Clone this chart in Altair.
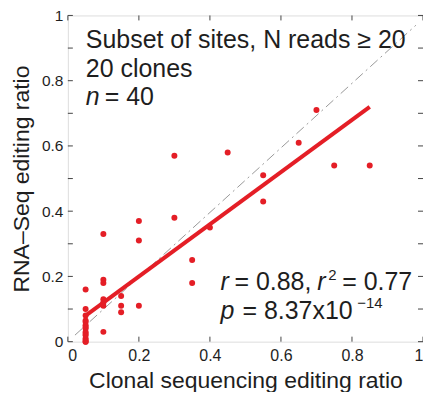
import altair as alt
import pandas as pd

# ---- data ----
clone_x = ([0.05] * 15 + [0.10] * 7 + [0.15] * 3 + [0.20] * 3 + [0.30] * 2 +
           [0.35] * 2 + [0.40] + [0.45] + [0.55] * 2 + [0.65] + [0.70] + [0.75] + [0.85])
rnaseq_y = ([0.16, 0.10, 0.08, 0.065, 0.06, 0.05, 0.045, 0.04, 0.03, 0.025, 0.02, 0.01, 0.005, 0.0, 0.0] +
            [0.33, 0.19, 0.18, 0.13, 0.12, 0.11, 0.03] +
            [0.14, 0.11, 0.09] +
            [0.37, 0.31, 0.11] +
            [0.57, 0.38] +
            [0.25, 0.18] +
            [0.35] + [0.58] + [0.51, 0.43] + [0.61] + [0.71] + [0.54] + [0.54])

fit_x = [0.05, 0.85]
fit_y = [0.08, 0.72]
diag_x = [0.02, 0.98]
diag_y = [0.02, 0.97]
x_ticks = [0.0, 0.2, 0.4, 0.6, 0.8, 1.0]
y_ticks = [0.0, 0.1, 0.2, 0.3, 0.4, 0.5, 0.6, 0.7, 0.8, 0.9, 1.0]
label_vals = [0, 0.2, 0.4, 0.6, 0.8, 1]

# annotation segments: text, anchor (data units), style, size, raise (px)
ann_txt = ["Subset of sites, N reads \u2265 20", "20 clones", "n", "= 40",
           "r", "= 0.88,", "r", "2", "= 0.77",
           "p", "= 8.37x10", "\u221214"]
ann_x = [0.0506, 0.0506, 0.0506, 0.1039,
         0.4298, 0.4691, 0.7022, 0.7331, 0.7725,
         0.4298, 0.4916, 0.8146]
ann_y = [0.900, 0.812, 0.724, 0.724,
         0.158, 0.158, 0.158, 0.158, 0.158,
         0.0697, 0.0697, 0.0697]
ann_style = ["normal", "normal", "italic", "normal",
             "italic", "normal", "italic", "normal", "normal",
             "italic", "normal", "normal"]
ann_size = [25, 25, 25, 25,
            25, 25, 25, 15, 25,
            25, 25, 15]
ann_dy = [0, 0, 0, 0,
          0, 0, 0, -10, 0,
          0, 0, -11]

W, H = 356, 327
RED = "#e41e26"
FONT = "Liberation Sans"
TXT = "#1e1e1e"

pts = pd.DataFrame({"x": clone_x, "y": rnaseq_y})
fit = pd.DataFrame({"x": fit_x, "y": fit_y})
diag = pd.DataFrame({"x": diag_x, "y": diag_y})
xt = pd.DataFrame({"t": x_ticks})
yt = pd.DataFrame({"t": y_ticks})

xs = alt.Scale(domain=[0, 1], nice=False, zero=False)
ys = alt.Scale(domain=[0, 1], nice=False, zero=False)

xaxis = alt.Axis(values=label_vals, format="~g", ticks=False, domain=False, grid=False,
                 labelFontSize=16, labelColor=TXT, labelPadding=6, labelFont=FONT,
                 title="Clonal sequencing editing ratio", titleFontSize=23, titleFont=FONT,
                 titleFontWeight="normal", titleColor=TXT, titlePadding=6)
yaxis = alt.Axis(values=label_vals, format="~g", ticks=False, domain=False, grid=False,
                 labelFontSize=15.5, labelColor=TXT, labelPadding=5, labelFont=FONT,
                 title="RNA\u2013Seq editing ratio", titleFontSize=23, titleFont=FONT,
                 titleFontWeight="normal", titleColor=TXT, titlePadding=8)

points = alt.Chart(pts).mark_circle(size=36, color=RED, opacity=1).encode(
    x=alt.X("x:Q", scale=xs, axis=xaxis),
    y=alt.Y("y:Q", scale=ys, axis=yaxis),
)

diag_line = alt.Chart(diag).mark_line(color="#999999", strokeWidth=1,
                                      strokeDash=[10, 4, 2, 4]).encode(
    x=alt.X("x:Q", scale=xs), y=alt.Y("y:Q", scale=ys))

fit_line = alt.Chart(fit).mark_line(color=RED, strokeWidth=4).encode(
    x=alt.X("x:Q", scale=xs), y=alt.Y("y:Q", scale=ys))

tstyle = dict(color="#444", strokeWidth=1)
TL = 5
bottom = alt.Chart(xt).mark_rule(**tstyle).encode(
    x=alt.X("t:Q", scale=xs), y=alt.value(H), y2=alt.value(H - TL))
top = alt.Chart(xt).mark_rule(**tstyle).encode(
    x=alt.X("t:Q", scale=xs), y=alt.value(0), y2=alt.value(TL))
left = alt.Chart(yt).mark_rule(**tstyle).encode(
    y=alt.Y("t:Q", scale=ys), x=alt.value(0), x2=alt.value(TL))
right = alt.Chart(yt).mark_rule(**tstyle).encode(
    y=alt.Y("t:Q", scale=ys), x=alt.value(W), x2=alt.value(W - TL))

ann = pd.DataFrame({"x": ann_x, "y": ann_y, "txt": ann_txt})

def seg(i):
    return alt.Chart(ann.iloc[[i]]).mark_text(
        align="left", baseline="alphabetic", font=FONT, color=TXT,
        fontSize=ann_size[i], fontStyle=ann_style[i], dy=ann_dy[i]
    ).encode(x=alt.X("x:Q", scale=xs), y=alt.Y("y:Q", scale=ys), text="txt:N")

texts = [seg(i) for i in range(len(ann_txt))]

chart = alt.layer(diag_line, points, fit_line, bottom, top, left, right, *texts).properties(
    width=W, height=H,
    autosize=alt.AutoSizeParams(type="none"),
    padding={"left": 60, "top": 7, "right": 0, "bottom": 50},
).configure_view(stroke="#444", strokeWidth=1.2).configure(background="white")

chart.save("out.html", embed_options={"renderer": "svg", "actions": False})
